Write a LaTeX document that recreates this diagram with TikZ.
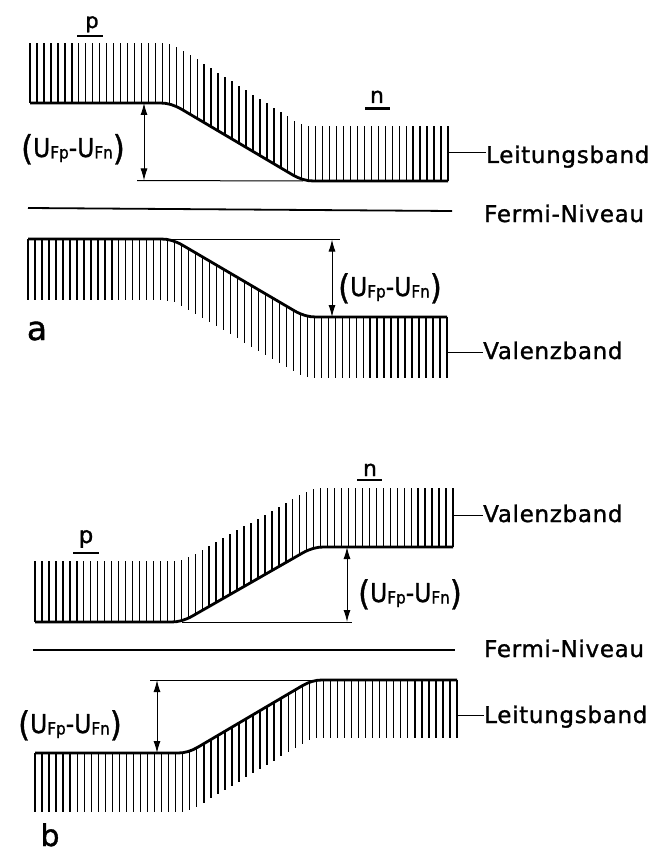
\documentclass[tikz,border=0pt]{standalone}
\usepackage{fontspec}
\setmainfont[FakeBold=1.2]{DejaVu Sans}
\newfontfamily\lblfont[LetterSpace=3,FakeBold=1.2]{DejaVu Sans}
\usetikzlibrary{arrows.meta}
\newcommand{\ufpn}{\scalebox{0.9}[1]{\raisebox{-3pt}{\fontsize{34}{34}\selectfont(}\fontsize{26}{30}\selectfont U\raisebox{-1.5pt}{\fontsize{17}{17}\selectfont Fp}-U\raisebox{-1.5pt}{\fontsize{17}{17}\selectfont Fn}\raisebox{-3pt}{\fontsize{34}{34}\selectfont)}}}
% #1 x0, #2 x1, #3 N, #4 xA, #5 xB, #6 yL, #7 yR, #8 lenL, #9 lenR
\newcommand{\bandHatch}[9]{%
  \pgfmathsetmacro{\hdx}{(#2-#1)/#3}%
  \foreach \i in {0,...,#3}{%
    \pgfmathsetmacro{\hx}{#1+\hdx*\i}%
    \pgfmathsetmacro{\ht}{(\hx-#4)/(#5-#4)}%
    \pgfmathsetmacro{\ha}{min(max(\ht+0.08,0),0.16)}%
    \pgfmathsetmacro{\hb}{min(max(\ht-0.92,0),0.16)}%
    \pgfmathsetmacro{\hs}{\ha*\ha/0.32+max(\ht-0.08,0)-\hb*\hb/0.32-max(\ht-1.08,0)}%
    \pgfmathsetmacro{\hy}{#6+(#7-#6)*\hs}%
    \pgfmathsetmacro{\hl}{#8+(#9-#8)*\hs}%
    \draw[hatch] (\hx,\hy) -- ++(0,\hl);%
  }%
  \pgfmathsetmacro{\ex}{0.08*(#5-#4)}%
  \pgfmathsetmacro{\ey}{0.08*(#7-#6)}%
  \draw[edge] (#1,#6) -- ({#4-\ex},#6)
     .. controls ({#4-\ex/3},#6) and ({#4+\ex/3},{#6+\ey/3}) .. ({#4+\ex},{#6+\ey})
     -- ({#5-\ex},{#7-\ey})
     .. controls ({#5-\ex/3},{#7-\ey/3}) and ({#5+\ex/3},#7) .. ({#5+\ex},#7)
     -- (#2,#7);%
}
\begin{document}
\begin{tikzpicture}[x=1pt,y=-1pt,
  edge/.style={line width=2.8pt},
  hatch/.style={line width=1.4pt},
  refline/.style={line width=1pt},
  fermi/.style={line width=1.8pt},
  uline/.style={line width=2.2pt},
  dim/.style={line width=1pt,{Latex[length=12pt,width=7pt]}-{Latex[length=12pt,width=7pt]}},
  lbl/.style={font=\lblfont\fontsize{23}{27}\selectfont,anchor=base west,inner sep=0pt},
  ulbl/.style={anchor=base,inner sep=0pt},
  pn/.style={anchor=base,inner sep=0pt}]
\fill[white] (0,0) rectangle (667,853);
\useasboundingbox (0,0) rectangle (667,853);

% ---------------- part a ----------------
\bandHatch{30}{448}{60}{171}{303}{103}{181}{-60}{-55}
\bandHatch{28}{447}{60}{172}{305}{239}{317}{61}{61}
\coordinate (fa1) at (28,208);
\coordinate (fa2) at (452,211);
\draw[fermi] (fa1) -- (fa2);

\node[pn,font=\fontsize{21}{23}\selectfont] (pa) at (92,28) {p};
\draw[uline] (77,36) -- (103,36);
\node[pn,font=\fontsize{22}{24}\selectfont] (na) at (377,103) {n};
\draw[uline] (365,108.5) -- (390,108.5);

\coordinate (r1a) at (137,180.5);
\coordinate (r1b) at (303,181);
\draw[refline] (r1a) -- (r1b);
\coordinate (d1t) at (144,103);
\coordinate (d1b) at (144,180.5);
\draw[dim] (d1t) -- (d1b);
\node[ulbl] (u1) at (73,157) {\ufpn};

\coordinate (r2a) at (172,239.5);
\coordinate (r2b) at (340,239.5);
\draw[refline] (r2a) -- (r2b);
\coordinate (d2t) at (332,239.5);
\coordinate (d2b) at (332,317);
\draw[dim] (d2t) -- (d2b);
\node[ulbl] (u2) at (390,296) {\ufpn};

\node[pn,font=\fontsize{33}{36}\selectfont] (la) at (37,340) {a};

\node[lbl] (tLa) at (486,163) {Leitungsband};
\node[lbl] (tFa) at (484,222) {Fermi-Niveau};
\node[lbl] (tVa) at (483,359) {Valenzband};
\coordinate (cLa) at (448,153);
\draw[refline] (cLa) -- (cLa -| tLa.west);
\coordinate (cVa) at (447,352);
\draw[refline] (cVa) -- (cVa -| tVa.west);

% ---------------- part b ----------------
\bandHatch{35}{453}{60}{182}{313}{622}{547}{-61}{-59}
\bandHatch{35}{457}{60}{188}{312}{753}{680}{59}{58}
\coordinate (fb1) at (33,650);
\coordinate (fb2) at (455,650);
\draw[fermi] (fb1) -- (fb2);

\node[pn,font=\fontsize{23}{25}\selectfont] (pb) at (86,543) {p};
\draw[uline] (73,553) -- (99,553);
\node[pn,font=\fontsize{22}{24}\selectfont] (nb) at (370,476) {n};
\draw[uline] (357,480) -- (382,480);

\coordinate (r3a) at (182,622);
\coordinate (r3b) at (352,622);
\draw[refline] (r3a) -- (r3b);
\coordinate (d3t) at (347,547);
\coordinate (d3b) at (347,622);
\draw[dim] (d3t) -- (d3b);
\node[ulbl] (u3) at (410,602) {\ufpn};

\coordinate (r4a) at (150,680);
\coordinate (r4b) at (312,680);
\draw[refline] (r4a) -- (r4b);
\coordinate (d4t) at (157,680);
\coordinate (d4b) at (157,753);
\draw[dim] (d4t) -- (d4b);
\node[ulbl] (u4) at (70,733) {\ufpn};

\node[pn,font=\fontsize{30}{33}\selectfont] (lb) at (50,846) {b};

\node[lbl] (tVb) at (483,522) {Valenzband};
\node[lbl] (tFb) at (484,657) {Fermi-Niveau};
\node[lbl] (tLb) at (484,723) {Leitungsband};
\coordinate (cVb) at (452,515);
\draw[refline] (cVb) -- (cVb -| tVb.west);
\coordinate (cLb) at (457,715);
\draw[refline] (cLb) -- (cLb -| tLb.west);
\end{tikzpicture}
\end{document}
